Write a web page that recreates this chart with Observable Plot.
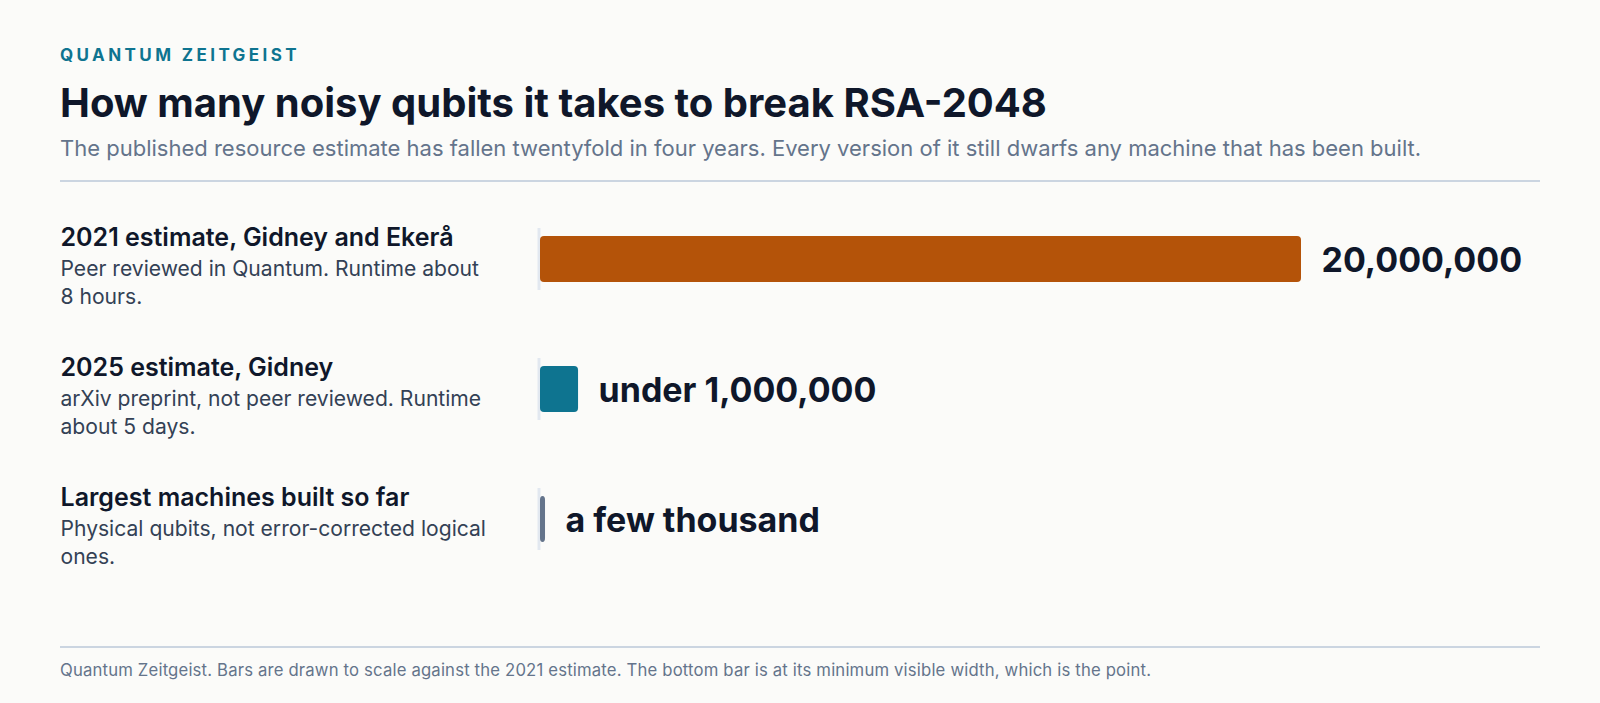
<!DOCTYPE html>
<html>
<head>
<meta charset="utf-8">
<script src="https://cdn.jsdelivr.net/npm/d3@7"></script>
<script src="https://cdn.jsdelivr.net/npm/@observablehq/plot@0.6"></script>
<style>
  html, body { margin: 0; padding: 0; background: #fbfbf9; }
  body { width: 1600px; height: 703px; overflow: hidden; font-family: Inter, "Noto Sans", sans-serif; }
  .wrap { position: relative; width: 1480px; margin-left: 60px; padding-top: 45px; }
  .kicker { font-size: 17px; line-height: 20px; font-weight: 700; letter-spacing: 0.2em; color: #0e7490; text-transform: uppercase; }
  .title { margin-top: 15px; font-size: 40px; line-height: 46px; font-weight: 700; color: #0f172a; }
  .subtitle { margin-top: 9px; font-size: 22px; line-height: 26px; color: #64748b; white-space: nowrap; }
  .rule { margin-top: 19px; height: 2px; background: #cbd5e1; }
  .chart svg { display: block; }
  .footrule { margin-top: 32px; height: 2px; background: #cbd5e1; }
  .caption { margin-top: 12px; font-size: 16.7px; letter-spacing: 0.17px; line-height: 20px; color: #64748b; white-space: nowrap; }
</style>
</head>
<body>
<div class="wrap">
  <div class="kicker">Quantum Zeitgeist</div>
  <div class="title">How many noisy qubits it takes to break RSA-2048</div>
  <div class="subtitle">The published resource estimate has fallen twentyfold in four years. Every version of it still dwarfs any machine that has been built.</div>
  <div class="rule"></div>
  <div class="chart" id="chart"></div>
  <div class="footrule"></div>
  <div class="caption">Quantum Zeitgeist. Bars are drawn to scale against the 2021 estimate. The bottom bar is at its minimum visible width, which is the point.</div>
</div>
<script>
// ---- data ----
const categories = [
  "2021 estimate, Gidney and Ekerå",
  "2025 estimate, Gidney",
  "Largest machines built so far"
];
const notes = [
  "Peer reviewed in Quantum. Runtime about\n8 hours.",
  "arXiv preprint, not peer reviewed. Runtime\nabout 5 days.",
  "Physical qubits, not error-corrected logical\nones."
];
const qubits = [20000000, 1000000, 5000];
const valueLabels = ["20,000,000", "under 1,000,000", "a few thousand"];
const barColors = ["#b45309", "#0e7490", "#64748b"];
const minVisibleShare = 0.0066; // smallest bar is drawn at a minimum visible width

const maxQubits = d3.max(qubits);
const rows = categories.map((c, i) => ({
  category: c,
  note: notes[i],
  qubits: qubits[i],
  shown: Math.max(qubits[i], maxQubits * minVisibleShare),
  label: valueLabels[i],
  color: barColors[i]
}));

const chart = Plot.plot({
  width: 1480,
  height: 432,
  marginTop: 11.5,
  marginBottom: 30.5,
  marginLeft: 480,
  marginRight: 239,
  style: { fontFamily: "Inter, 'Noto Sans', sans-serif", background: "transparent", overflow: "visible" },
  x: { domain: [0, maxQubits], axis: null },
  y: { domain: categories, axis: null, padding: 0 },
  color: { type: "identity" },
  marks: [
    Plot.tickX(rows, { x: () => 0, y: "category", stroke: "#e2e8f0", strokeWidth: 3, dx: -1.5, insetTop: 34, insetBottom: 34 }),
    Plot.barX(rows, { x: "shown", y: "category", fill: "color", insetTop: 42, insetBottom: 42, rx: 4 }),
    Plot.text(rows, { x: "shown", y: "category", text: "label", dx: 20, dy: 2, textAnchor: "start", lineAnchor: "middle", fontSize: 34, fontWeight: 700, fill: "#0f172a" }),
    Plot.text(rows, { y: "category", text: "category", frameAnchor: "left", dx: -480, dy: -13.5, textAnchor: "start", lineAnchor: "bottom", fontSize: 25, fontWeight: 600, fill: "#0f172a" }),
    Plot.text(rows, { y: "category", text: "note", frameAnchor: "left", dx: -480, dy: -3.4, textAnchor: "start", lineAnchor: "top", lineHeight: 1.3333, fontSize: 21.1, fill: "#334155" })
  ]
});
document.getElementById("chart").appendChild(chart);
</script>
</body>
</html>
